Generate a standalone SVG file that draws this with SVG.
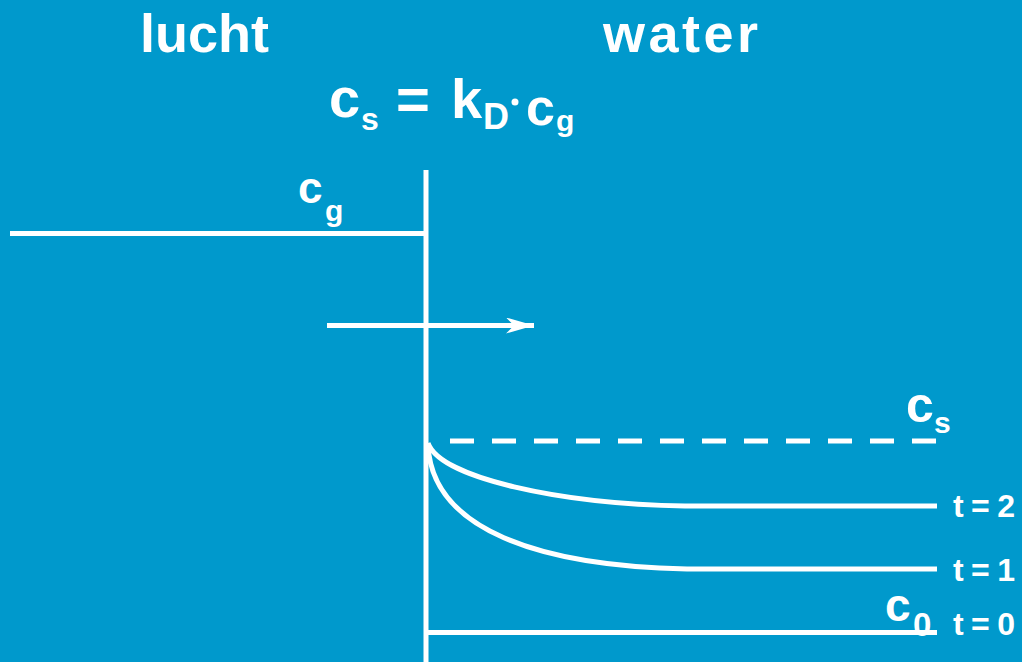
<svg xmlns="http://www.w3.org/2000/svg" width="1022" height="662" viewBox="0 0 1022 662">
<style>
.t{fill:#fff;font-family:"Liberation Sans",Arial,sans-serif;font-weight:bold}
.ln{stroke:#fff;stroke-width:5;fill:none}
</style>
<defs>
<marker id="ah" markerUnits="userSpaceOnUse" markerWidth="30" markerHeight="20" refX="28" refY="8" orient="auto">
<path d="M0,0 L28,8 L0,16 L8,8 Z" fill="#fff"/>
</marker>
</defs>
<rect width="1022" height="662" fill="#0099cc"/>
<g id="titles">
<text class="t" x="140" y="52" font-size="54">lucht</text>
<text class="t" x="603" y="52" font-size="54" letter-spacing="3.5">water</text>
</g>
<g id="formula">
<text class="t" x="329" y="117" font-size="56">c</text>
<text class="t" x="361" y="130" font-size="32">s</text>
<text class="t" x="396" y="119" font-size="58">=</text>
<text class="t" x="451" y="118" font-size="56">k</text>
<text class="t" x="483" y="129" font-size="36">D</text>
<circle cx="515" cy="102" r="3.5" fill="#fff"/>
<text class="t" x="526" y="125" font-size="52">c</text>
<text class="t" x="556" y="131" font-size="30">g</text>
</g>
<g id="connectors">
<line class="ln" x1="426" y1="170" x2="426" y2="662"/>
<line class="ln" x1="10" y1="233.5" x2="428" y2="233.5"/>
<line class="ln" x1="327" y1="325.5" x2="534" y2="325.5" marker-end="url(#ah)"/>
<line class="ln" x1="450" y1="441" x2="937" y2="441" stroke-dasharray="24 18"/>
<path class="ln" d="M428,443 C440,478 560,504 685,506 L937,506"/>
<path class="ln" d="M428,445 C432,530 540,566 687,569 L937,569"/>
</g>
<g id="label-cg">
<text class="t" x="298" y="203" font-size="44">c</text>
<text class="t" x="325" y="221" font-size="30">g</text>
</g>
<g id="label-cs">
<text class="t" x="906" y="422" font-size="50">c</text>
<text class="t" x="934" y="433" font-size="30">s</text>
</g>
<g id="label-c0">
<text class="t" x="885" y="621" font-size="46">c</text>
<text class="t" x="913" y="636" font-size="33">0</text>
</g>
<g id="connector-t0">
<line class="ln" x1="428" y1="632.5" x2="937" y2="632.5"/>
</g>
<g id="label-t2"><text class="t" x="953" y="517" font-size="32" textLength="62" lengthAdjust="spacing">t=2</text></g>
<g id="label-t1"><text class="t" x="953" y="581" font-size="32" textLength="62" lengthAdjust="spacing">t=1</text></g>
<g id="label-t0"><text class="t" x="953" y="635" font-size="32" textLength="62" lengthAdjust="spacing">t=0</text></g>
</svg>
